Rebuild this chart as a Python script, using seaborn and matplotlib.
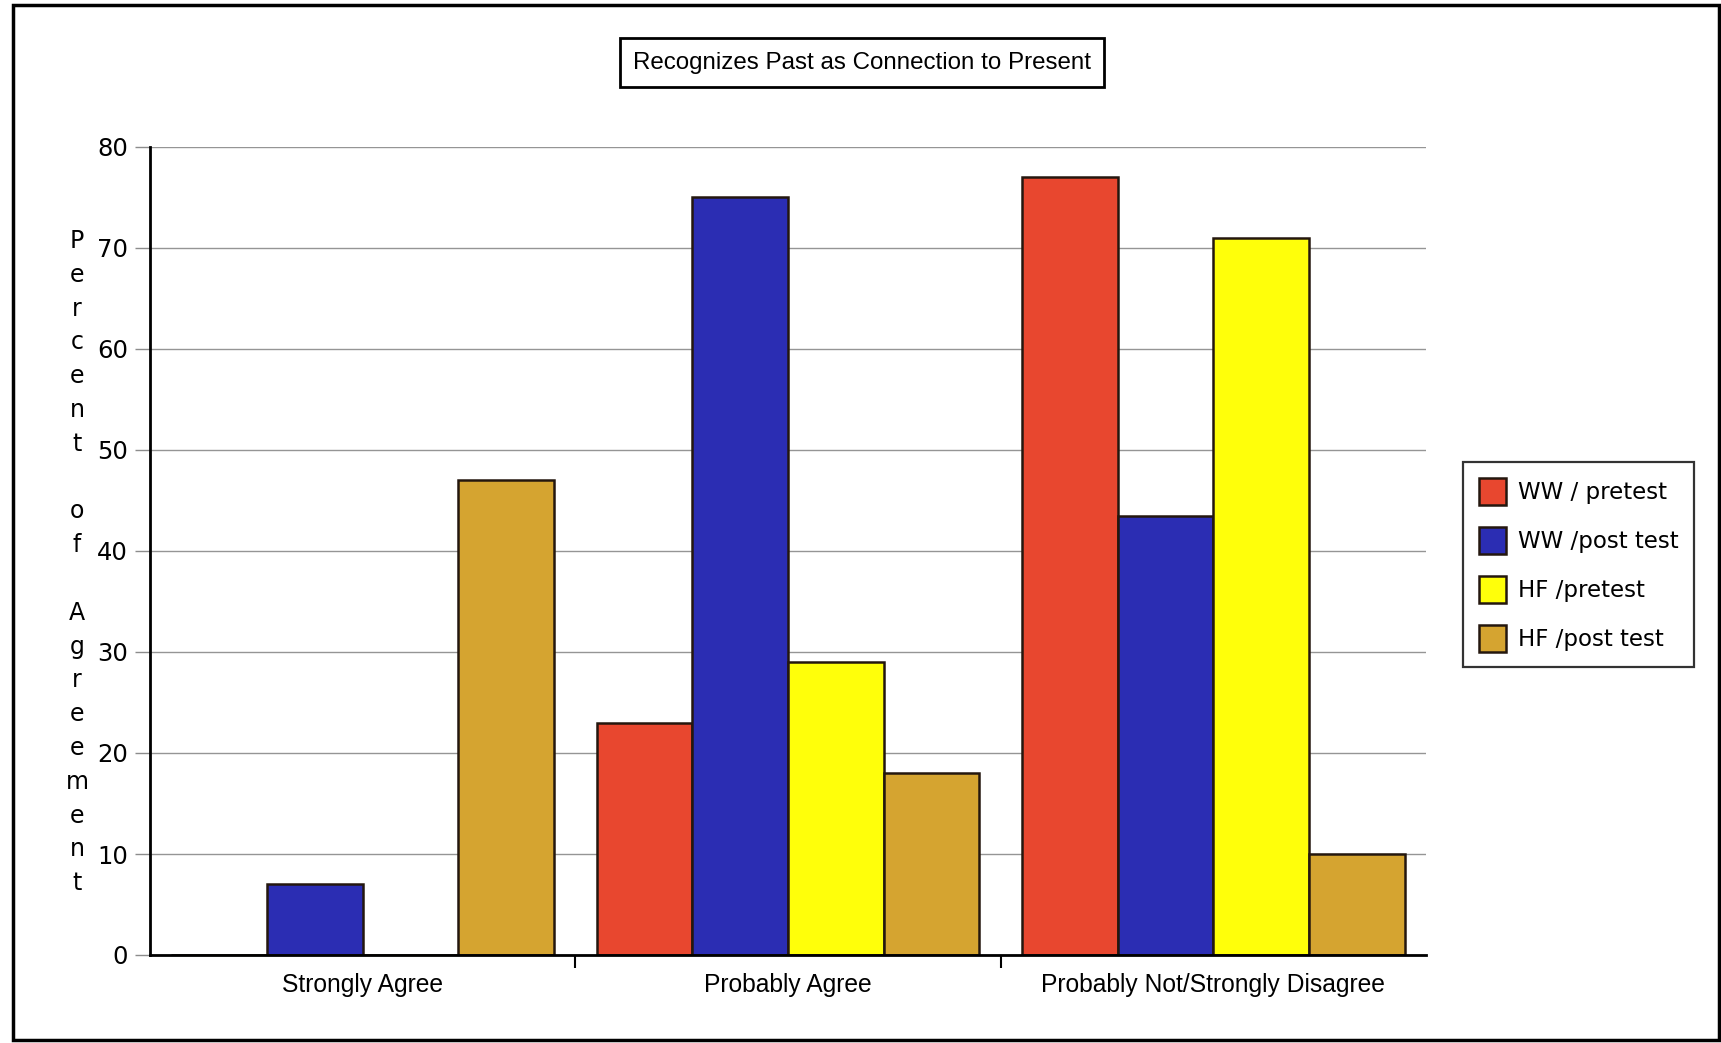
import matplotlib
matplotlib.use("Agg")
import matplotlib.pyplot as plt
from matplotlib import font_manager
from matplotlib.patches import Rectangle
import seaborn as sns
import pandas as pd

# Survey responses (percent of agreement) per answer category
categories = ["Strongly Agree", "Probably Agree", "Probably Not/Strongly Disagree"]
groups = ["WW / pretest", "WW /post test", "HF /pretest", "HF /post test"]
ww_pretest = [0, 23, 77]
ww_posttest = [7, 75, 43.5]
hf_pretest = [0, 29, 71]
hf_posttest = [47, 18, 10]
yticks = [0, 10, 20, 30, 40, 50, 60, 70, 80]
colors = ["#E8472F", "#2B2DB3", "#FFFF0A", "#D5A430"]

title = "Recognizes Past as Connection to Present"
ylabel = "Percent of Agreement"

sns.set_theme(style="white")
plt.rcParams["font.family"] = ["DejaVu Sans"]
plt.rcParams["text.color"] = "black"
plt.rcParams["xtick.labelcolor"] = "black"
plt.rcParams["ytick.labelcolor"] = "black"

installed = {f.name for f in font_manager.fontManager.ttflist}
if "Liberation Sans Narrow" in installed:
    label_font, label_size = "Liberation Sans Narrow", 21
else:
    label_font, label_size = "Liberation Sans", 17.7

df = pd.DataFrame({
    "category": categories * len(groups),
    "group": [g for g in groups for _ in categories],
    "percent": ww_pretest + ww_posttest + hf_pretest + hf_posttest,
})

W, H = 1721, 1043
fig = plt.figure(figsize=(W / 100, H / 100), dpi=100)
ax = fig.add_axes([150 / W, 1 - 955 / H, 1276 / W, 808 / H])

sns.barplot(
    data=df, x="category", y="percent", hue="group",
    order=categories, hue_order=groups, palette=colors,
    width=0.9, saturation=1, errorbar=None,
    edgecolor="#24170e", linewidth=1.8, ax=ax,
)

ax.set_xlim(-0.5, 2.5)
ax.set_ylim(0, 80)
ax.set_yticks(yticks)
ax.set_xlabel("")
ax.set_ylabel("")
ax.set_axisbelow(True)
ax.yaxis.grid(True, color="#959595", lw=1)
ax.xaxis.grid(False)

for side in ("top", "right"):
    ax.spines[side].set_visible(False)
for side in ("left", "bottom"):
    ax.spines[side].set_color("black")
    ax.spines[side].set_linewidth(2)

ax.tick_params(axis="y", length=11, width=1, color="#8c8c8c",
               labelsize=17.5, pad=5, left=True, labelcolor="black")
ax.tick_params(axis="x", which="major", length=0, pad=13, labelcolor="black")
ax.set_xticks([0.5, 1.5], minor=True)
ax.tick_params(axis="x", which="minor", length=9, width=1.5,
               color="black", direction="out", bottom=True)
for lab in ax.get_xticklabels():
    lab.set_fontfamily(label_font)
    lab.set_fontsize(label_size)

handles, labels = ax.get_legend_handles_labels()
leg = ax.legend(
    handles, labels, loc="upper left",
    bbox_to_anchor=(1463 / W, 1 - 462 / H), bbox_transform=fig.transFigure,
    frameon=True, fancybox=False, edgecolor="black", fontsize=16.5,
    handlelength=1.2, handleheight=1.45, labelspacing=0.95,
    handletextpad=0.5, borderpad=0.68, borderaxespad=0,
)
leg.get_frame().set_linewidth(1.6)
for t in leg.get_texts():
    t.set_color("black")

fig.text(0.5009, 0.9400, title, ha="center", va="center",
         fontsize=label_size - 0.3, family=label_font,
         bbox=dict(boxstyle="square,pad=0.55", fc="white", ec="black", lw=2))

# Vertical, letter-stacked axis title
for i, ch in enumerate(ylabel):
    if ch != " ":
        fig.text(77 / W, 1 - (248 + i * 33.8) / H, ch, ha="center",
                 va="baseline", fontsize=17)

fig.add_artist(Rectangle((13 / W, 3 / H), 1706 / W, 1035 / H,
                         transform=fig.transFigure, fill=False,
                         ec="black", lw=2.5))

fig.savefig("out.png", dpi=100)
